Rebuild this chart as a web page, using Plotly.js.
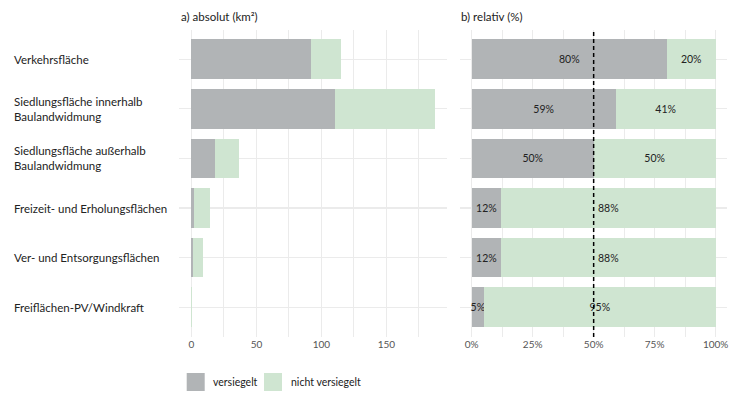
<!DOCTYPE html>
<html>
<head>
<meta charset="utf-8">
<script src="https://cdn.plot.ly/plotly-3.0.1.min.js"></script>
<style>html,body{margin:0;padding:0;background:#fff;}#chart{width:740px;height:411px;}</style>
</head>
<body>
<div id="chart"></div>
<script>
// ---- data ----
const categories = [
  "Verkehrsfläche",
  "Siedlungsfläche innerhalb<br>Baulandwidmung",
  "Siedlungsfläche außerhalb<br>Baulandwidmung",
  "Freizeit- und Erholungsflächen",
  "Ver- und Entsorgungsflächen",
  "Freiflächen-PV/Windkraft"
];
const sealedKm2   = [92.0, 110.7, 18.2, 1.7, 1.1, 0.004];
const unsealedKm2 = [23.3, 76.9, 18.0, 12.2, 8.1, 0.076];
const sealedPct   = [80, 59, 50, 12, 12, 5];
const seriesNames = ["versiegelt", "nicht versiegelt"];
const absTicks = [0, 50, 100, 150];
const relTicks = [0, 0.25, 0.5, 0.75, 1];
const relTickText = ["0%", "25%", "50%", "75%", "100%"];
const panelTitles = ["a) absolut (km²)", "b) relativ (%)"];

const GREY = "#b1b4b6", GREEN = "#cfe5d1";
const COLORS = [GREY, GREEN];
const FONT = "Lato, 'Open Sans', sans-serif";
const catIdx = categories.map((c, i) => i);

const sealedFrac = sealedPct.map(p => p / 100);
const unsealedFrac = sealedPct.map(p => 1 - p / 100);

const txt = {family: FONT, size: 10.5, color: "#222"};
const traces = [
  {type: "bar", orientation: "h", x: sealedKm2, y: catIdx, name: seriesNames[0],
   marker: {color: GREY}, width: 0.8, xaxis: "x", yaxis: "y", hoverinfo: "skip"},
  {type: "bar", orientation: "h", x: unsealedKm2, y: catIdx, name: seriesNames[1],
   marker: {color: GREEN}, width: 0.8, xaxis: "x", yaxis: "y", hoverinfo: "skip"},
  {type: "bar", orientation: "h", x: sealedFrac, y: catIdx, name: seriesNames[0],
   marker: {color: GREY}, width: 0.8, xaxis: "x2", yaxis: "y", hoverinfo: "skip",
   texttemplate: "%{x:.0%}", textposition: "inside", insidetextanchor: "middle", constraintext: "none",
   textangle: 0, insidetextfont: txt},
  {type: "bar", orientation: "h", x: unsealedFrac, y: catIdx, name: seriesNames[1],
   marker: {color: GREEN}, width: 0.8, xaxis: "x2", yaxis: "y", hoverinfo: "skip",
   texttemplate: "%{x:.0%}", textposition: "inside", insidetextanchor: "middle", constraintext: "none",
   textangle: 0, insidetextfont: txt}
];

const W = 740, H = 411;
const grid = "#ebebeb";
const annotations = categories.map((c, i) => ({
  text: c, xref: "paper", x: 12 / W, xanchor: "left", yref: "y", y: i, yanchor: "middle",
  align: "left", showarrow: false, font: {family: FONT, size: 11.5, color: "#222"}
}));
annotations.push({text: panelTitles[0], xref: "paper", x: 179 / W, xanchor: "left",
  yref: "paper", y: 1 - 17 / H, yanchor: "middle", showarrow: false,
  font: {family: FONT, size: 11.5, color: "#222"}});
annotations.push({text: panelTitles[1], xref: "paper", x: 459 / W, xanchor: "left",
  yref: "paper", y: 1 - 17 / H, yanchor: "middle", showarrow: false,
  font: {family: FONT, size: 11.5, color: "#222"}});

// custom legend (swatch + label)
const legendX = [186.7, 264];
const shapes = [{type: "line", xref: "x2", x0: 0.5, x1: 0.5, yref: "y domain", y0: 0, y1: 1,
  line: {color: "#000", width: 1.5, dash: "4px,3px"}, layer: "above"}];
seriesNames.forEach((n, i) => {
  shapes.push({type: "rect", xref: "paper", yref: "paper",
    x0: legendX[i] / W, x1: (legendX[i] + 18) / W, y0: 1 - 391 / H, y1: 1 - 373 / H,
    fillcolor: COLORS[i], line: {width: 0}});
  annotations.push({text: n, xref: "paper", x: (legendX[i] + 24.5) / W, xanchor: "left",
    yref: "paper", y: 1 - 382 / H, yanchor: "middle", showarrow: false,
    font: {family: FONT, size: 10.5, color: "#222"}});
});

const layout = {
  width: W, height: H,
  margin: {l: 0, r: 0, t: 0, b: 0},
  paper_bgcolor: "#fff", plot_bgcolor: "#fff",
  barmode: "stack", bargap: 0.2,
  font: {family: FONT, size: 10, color: "#555"},
  showlegend: false,
  xaxis: {domain: [179 / W, 447 / W], range: [-9.6, 196.6], anchor: "y",
    tickvals: absTicks, showgrid: true, gridcolor: grid, gridwidth: 1, zeroline: false,
    ticks: "", showline: false, tickfont: {family: FONT, size: 10, color: "#555"},
    minor: {tickvals: [25, 75, 125, 175], showgrid: true, gridcolor: grid, gridwidth: 1, ticks: ""}},
  xaxis2: {domain: [460 / W, 727.3 / W], range: [-0.048, 1.048], anchor: "y",
    tickvals: relTicks, ticktext: relTickText, showgrid: true, gridcolor: grid, gridwidth: 1, zeroline: false,
    ticks: "", showline: false, tickfont: {family: FONT, size: 10, color: "#555"},
    minor: {tickvals: [0.125, 0.375, 0.625, 0.875], showgrid: true, gridcolor: grid, gridwidth: 1, ticks: ""}},
  yaxis: {domain: [1 - 337 / H, 1 - 29.5 / H], range: [5.6, -0.6], anchor: "x",
    tickvals: catIdx, showticklabels: false, showgrid: true, gridcolor: grid, gridwidth: 1.2,
    zeroline: false, ticks: "", showline: false},
  shapes: shapes,
  annotations: annotations
};

Plotly.newPlot("chart", traces, layout, {staticPlot: true, displayModeBar: false});
</script>
</body>
</html>
